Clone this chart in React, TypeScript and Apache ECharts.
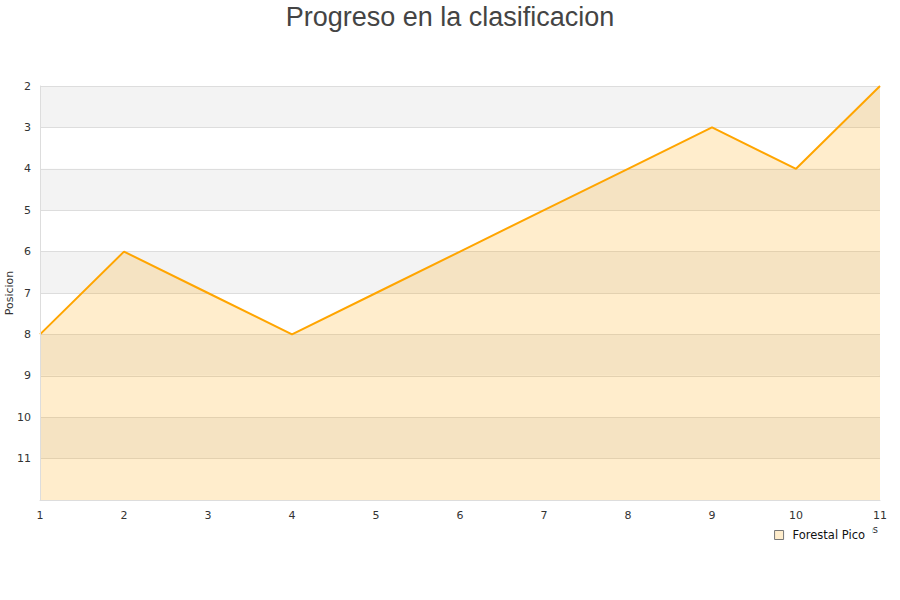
import React, { useEffect, useRef } from "react";
import * as echarts from "echarts";

const jornadas = [1, 2, 3, 4, 5, 6, 7, 8, 9, 10, 11];
const posiciones = [8, 6, 7, 8, 7, 6, 5, 4, 3, 4, 2];
const seriesName = "Forestal Pico";
const titleText = "Progreso en la clasificacion";

export default function App() {
  const ref = useRef<HTMLDivElement>(null);
  useEffect(() => {
    if (!ref.current) return;
    const chart = echarts.init(ref.current, undefined, { renderer: "svg" });
    const data = jornadas.map((j, i) => [j, posiciones[i]]);
    chart.setOption({
      animation: false,
      backgroundColor: "#fff",
      title: {
        text: titleText,
        left: "center",
        top: -2,
        textStyle: {
          fontFamily: "Liberation Sans",
          fontSize: 27,
          fontWeight: "normal",
          color: "#444",
        },
      },
      grid: {
        left: 40,
        right: 20,
        top: 86,
        bottom: 100,
        containLabel: false,
        outerBoundsMode: "none",
      },
      legend: {
        data: [{ name: seriesName, icon: "rect" }],
        right: 28,
        top: 523,
        itemWidth: 9,
        itemHeight: 9,
        itemGap: 10,
        backgroundColor: "#fff",
        padding: [6, 7, 3, 4],
        itemStyle: { color: "#ffedcc", borderColor: "#777", borderWidth: 1 },
        textStyle: {
          fontFamily: "DejaVu Sans",
          fontSize: 11.5,
          color: "#111",
          padding: [0, 0, 0, 4],
        },
      },
      xAxis: {
        type: "value",
        min: 1,
        max: 11,
        interval: 1,
        name: "Jornadas",
        nameLocation: "end",
        nameGap: -2,
        nameMoveOverlap: false,
        nameTextStyle: {
          align: "right",
          verticalAlign: "top",
          padding: [24, 0, 0, 0],
          fontSize: 10,
          fontFamily: "DejaVu Sans",
          color: "#333",
        },
        axisLine: { show: true, lineStyle: { color: "#ddd" } },
        axisTick: { show: false },
        splitLine: { show: false },
        axisLabel: { color: "#333", fontSize: 11, fontFamily: "DejaVu Sans", margin: 10 },
      },
      yAxis: {
        type: "value",
        inverse: true,
        min: 2,
        max: 12,
        interval: 1,
        name: "Posicion",
        nameLocation: "middle",
        nameGap: 25,
        nameMoveOverlap: false,
        nameTextStyle: { fontSize: 11, fontFamily: "DejaVu Sans", color: "#333" },
        axisLine: { show: true, lineStyle: { color: "#ddd" } },
        axisTick: { show: false },
        axisLabel: {
          color: "#333",
          fontSize: 11,
          fontFamily: "DejaVu Sans",
          margin: 9,
          formatter: (v: number) => (v === 12 ? "" : String(v)),
        },
        splitLine: { show: true, lineStyle: { color: "#ddd" } },
        splitArea: { show: true, areaStyle: { color: ["#f3f3f3", "#ffffff"] } },
      },
      series: [
        {
          name: seriesName,
          type: "line",
          data,
          showSymbol: false,
          symbol: "none",
          lineStyle: { color: "#ffa500", width: 2 },
          itemStyle: { color: "#ffedcc" },
          areaStyle: { color: "#ffa500", opacity: 0.2, origin: "end" },
          z: 3,
        },
      ],
      graphic: [
        {
          type: "line",
          z: 0,
          silent: true,
          shape: { x1: 879.5, y1: 86, x2: 879.5, y2: 500 },
          style: { stroke: "#ddd", lineWidth: 1 },
        },
        {
          type: "line",
          z: 0,
          silent: true,
          shape: { x1: 40, y1: 86.5, x2: 880, y2: 86.5 },
          style: { stroke: "#ddd", lineWidth: 1 },
        },
        {
          type: "line",
          z: 10,
          silent: true,
          shape: { x1: 40.5, y1: 86, x2: 40.5, y2: 500 },
          style: { stroke: "#ddd", lineWidth: 1 },
        },
      ],
    });
    return () => chart.dispose();
  }, []);
  return (
    <div
      ref={ref}
      style={{ position: "fixed", left: 0, top: 0, width: 900, height: 600 }}
    />
  );
}
